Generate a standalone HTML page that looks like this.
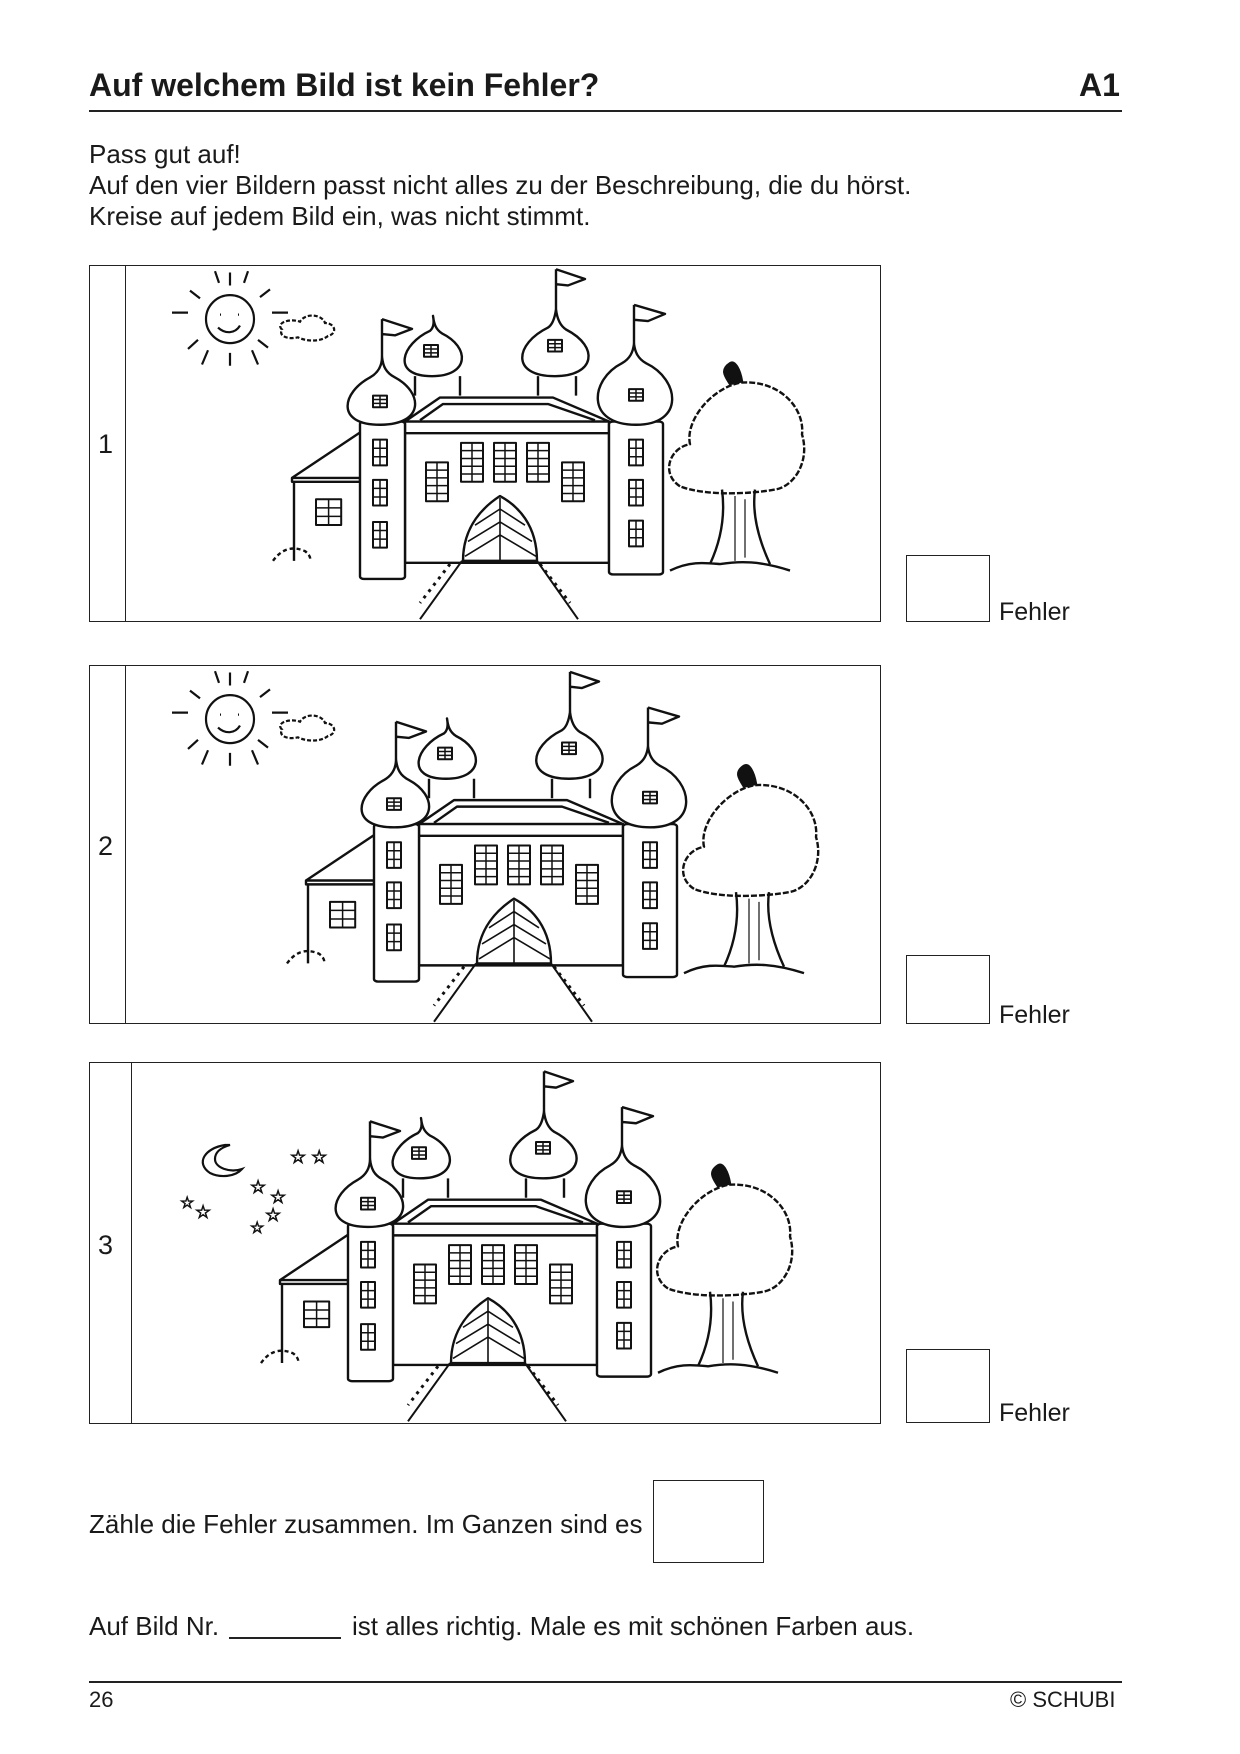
<!DOCTYPE html>
<html><head><meta charset="utf-8"><style>
body{margin:0;background:#fff;}
.pg{position:relative;width:1240px;height:1754px;font-family:"Liberation Sans",sans-serif;color:#1a1a1a;}
.t{position:absolute;white-space:nowrap;}
.box{position:absolute;border:1.3px solid #222;box-sizing:border-box;overflow:hidden;}
.sb{position:absolute;border:1.3px solid #222;box-sizing:border-box;}
svg *{vector-effect:non-scaling-stroke;}
</style></head><body><div class="pg">
<div class="t" style="left:89px;top:67px;font-size:32px;font-weight:bold;">Auf welchem Bild ist kein Fehler?</div>
<div class="t" style="left:1079px;top:67px;font-size:32px;font-weight:bold;">A1</div>
<div style="position:absolute;left:89px;top:110px;width:1033px;height:2px;background:#222"></div>
<div class="t" style="left:89px;top:139px;font-size:26px;line-height:31px;">Pass gut auf!<br>Auf den vier Bildern passt nicht alles zu der Beschreibung, die du hörst.<br>Kreise auf jedem Bild ein, was nicht stimmt.</div>

<svg width="0" height="0" style="position:absolute">
<defs>
<g id="win"><rect x="0" y="0" width="14" height="18" fill="none" stroke="#111" stroke-width="2"/><path d="M7 0V18M0 6H14M0 12H14" stroke="#111" stroke-width="1.5"/></g>
<g id="win2"><rect x="0" y="0" width="22" height="60" fill="none" stroke="#111" stroke-width="2"/><path d="M11 0V60M0 12H22M0 24H22M0 36H22M0 48H22" stroke="#111" stroke-width="1.5"/></g>
<g id="castle" fill="none" stroke="#111" stroke-width="2.4" stroke-linejoin="round">
<path d="M204 455V333H270M202 327L270 257M202 327H270V333H202Z"/>
<use href="#win" transform="translate(226,360) scale(1.8,2.2)"/>
<path d="M325 200V170M370 200V170"/>
<path d="M342 170C300 170 312 120 340 100C344 95 344 85 343 77C344 90 346 98 352 104C380 125 380 170 342 170Z" fill="#fff"/>
<use href="#win" x="334" y="122"/>
<path d="M448 200V170M486 200V170"/>
<path d="M465 170C420 170 425 120 458 95C463 90 465 78 466 67C467 80 470 92 476 98C510 125 505 170 465 170Z" fill="#fff"/>
<use href="#win" x="458" y="114"/>
<path d="M466 67V5M466 5L495 20L478 30L466 28" />
<path d="M315 240L350 203H463L519 240Z" fill="#fff"/>
<path d="M330 238L353 213H458L505 238"/>
<rect x="315" y="240" width="204" height="218" fill="#fff"/>
<path d="M315 258H519"/>
<use href="#win2" x="336" y="303"/>
<use href="#win2" x="371" y="273"/>
<use href="#win2" x="404" y="273"/>
<use href="#win2" x="437" y="273"/>
<use href="#win2" x="472" y="303"/>
<path d="M373 455C373 400 395 370 410 355C428 370 447 400 447 455Z" fill="#fff"/>
<path d="M410 358V455M410 375L385 400M410 395L378 425M410 415L375 448M410 375L435 400M410 395L442 425M410 415L446 448" stroke-width="1.6"/>
<rect x="270" y="240" width="45" height="243" rx="4" fill="#fff"/>
<path d="M290 245C245 245 252 195 280 172C288 165 292 155 292 140C293 155 296 165 305 172C333 195 335 245 290 245Z" fill="#fff"/>
<path d="M292 140V82M292 82L322 97L305 107L292 105"/>
<use href="#win" x="283" y="200"/>
<use href="#win" transform="translate(283,268) scale(1,2.2)"/>
<use href="#win" transform="translate(283,330) scale(1,2.2)"/>
<use href="#win" transform="translate(283,395) scale(1,2.2)"/>
<rect x="519" y="240" width="54" height="236" rx="4" fill="#fff"/>
<path d="M546 245C495 245 500 175 532 150C540 143 543 133 544 120C545 133 548 143 556 150C590 175 595 245 546 245Z" fill="#fff"/>
<path d="M544 120V60M544 60L575 74L558 85L544 83"/>
<use href="#win" x="539" y="190"/>
<use href="#win" transform="translate(539,268) scale(1,2.2)"/>
<use href="#win" transform="translate(539,330) scale(1,2.2)"/>
<use href="#win" transform="translate(539,393) scale(1,2.2)"/>
<path d="M372 455L330 545M447 455L488 545" stroke-width="2"/>
<path d="M360 460L330 520M450 460L480 520" stroke-dasharray="3 5" stroke-width="3"/>
<path d="M183 455C190 440 200 430 215 440C222 448 220 455 220 455" stroke-dasharray="4 3"/>
<path d="M590 340C570 320 580 280 600 275C595 240 620 190 650 180C690 175 715 220 712 260C720 300 705 340 685 345C660 352 615 355 590 340Z" fill="#fff" stroke-dasharray="6 2"/>
<path d="M632 345C635 380 632 420 620 460M665 345C662 380 668 420 680 460M580 470C600 455 615 458 630 460C650 455 670 455 700 470" />
<path d="M645 355V455M655 360V450" stroke-width="1.2"/>
<path d="M640 182C635 170 630 160 640 150C645 145 650 160 652 178Z" fill="#111"/>
</g>
<g id="sun" fill="none" stroke="#111" stroke-width="2.2">
<ellipse cx="140" cy="82" rx="24" ry="37"/>
<path d="M130 75h1M148 75h1M128 95C135 105 145 105 150 92"/>
<path d="M140 10V30M140 134V154M82 72H98M182 72H198M100 38L110 50M168 114L178 126M180 36L170 48M108 114L98 128M118 130L112 152M162 130L168 152M125 8L129 26M158 8L154 26"/>
<path d="M192 98C185 88 200 80 210 86C215 72 232 74 235 88C245 88 248 104 238 108C230 118 215 116 208 110C198 114 188 108 192 98Z" stroke-dasharray="4 2"/>
</g>
</defs></svg>

<div class="box" style="left:89px;top:265px;width:792px;height:357px;"><div style="position:absolute;left:35px;top:0;bottom:0;border-left:1.3px solid #222"></div>
<div class="t" style="left:8px;top:163px;font-size:27px;">1</div>
<svg style="position:absolute;left:0;top:0" width="792" height="357"><g transform="scale(1,0.648)"><use href="#sun"/><use href="#castle"/></g></svg></div>

<div class="box" style="left:89px;top:665px;width:792px;height:359px;"><div style="position:absolute;left:35px;top:0;bottom:0;border-left:1.3px solid #222"></div>
<div class="t" style="left:8px;top:165px;font-size:27px;">2</div>
<svg style="position:absolute;left:0;top:0" width="792" height="359"><g transform="scale(1,0.648)"><use href="#sun"/><g transform="translate(14,4)"><use href="#castle"/></g></g></svg></div>

<div class="box" style="left:89px;top:1062px;width:792px;height:362px;"><div style="position:absolute;left:41px;top:0;bottom:0;border-left:1.3px solid #222"></div>
<div class="t" style="left:8px;top:167px;font-size:27px;">3</div>
<svg style="position:absolute;left:0;top:0" width="792" height="362"><g fill="none" stroke="#111" stroke-width="2.2">
<path d="M135 82C115 85 105 100 120 110C130 115 145 114 152 106C140 110 125 105 125 96C125 88 133 84 140 82Z"/>
<text x="200" y="100" font-size="18" fill="none" stroke="#111" stroke-width="1">☆ ☆</text>
<text x="160" y="130" font-size="18" fill="none" stroke="#111" stroke-width="1">☆</text>
<text x="180" y="140" font-size="18" fill="none" stroke="#111" stroke-width="1">☆</text>
<text x="90" y="145" font-size="16" fill="none" stroke="#111" stroke-width="1">☆</text>
<text x="105" y="155" font-size="18" fill="none" stroke="#111" stroke-width="1">☆</text>
<text x="175" y="158" font-size="18" fill="none" stroke="#111" stroke-width="1">☆</text>
<text x="160" y="170" font-size="16" fill="none" stroke="#111" stroke-width="1">☆</text>
</g><g transform="scale(1,0.648)"><g transform="translate(-12,8)"><use href="#castle"/></g></g></svg></div>

<div class="sb" style="left:906px;top:555px;width:84px;height:67px;"></div>
<div class="t" style="left:999px;top:598px;font-size:25px;">Fehler</div>
<div class="sb" style="left:906px;top:955px;width:84px;height:69px;"></div>
<div class="t" style="left:999px;top:1001px;font-size:25px;">Fehler</div>
<div class="sb" style="left:906px;top:1349px;width:84px;height:74px;"></div>
<div class="t" style="left:999px;top:1399px;font-size:25px;">Fehler</div>

<div class="t" style="left:89px;top:1509px;font-size:26px;">Zähle die Fehler zusammen. Im Ganzen sind es</div>
<div class="sb" style="left:653px;top:1480px;width:111px;height:83px;"></div>
<div class="t" style="left:89px;top:1611px;font-size:26px;">Auf Bild Nr.</div>
<div style="position:absolute;left:229px;top:1637px;width:112px;height:1.5px;background:#222"></div>
<div class="t" style="left:352px;top:1611px;font-size:26px;">ist alles richtig. Male es mit schönen Farben aus.</div>
<div style="position:absolute;left:89px;top:1681px;width:1033px;height:1.5px;background:#222"></div>
<div class="t" style="left:89px;top:1687px;font-size:22px;">26</div>
<div class="t" style="left:1010px;top:1687px;font-size:22px;">© SCHUBI</div>
</div></body></html>
